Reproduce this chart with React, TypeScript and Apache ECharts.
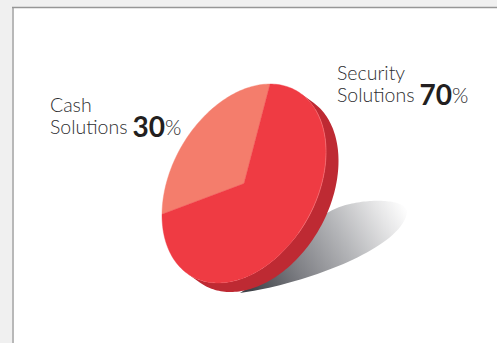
import React, { useEffect, useRef } from "react";
import * as echarts from "echarts";

// Revenue split shown on the tilted disc
const categories = ["Cash", "Security"];
const shareValues = [30, 70];
const sliceColors = ["#F47D6C", "#EF3B43"];
const labelSecondLine = "Solutions";

const WIDTH = 497;
const HEIGHT = 343;

// Disc geometry: a circle sheared into a leaning ellipse
const CX = 244;
const CY = 183.5;
const RX = 82;
const RY = 99.5;
const LEAN = (18.5 * Math.PI) / 180;
const START_ANGLE = Math.PI / 2;
const DEPTH_X = 12.5;
const DEPTH_Y = 9;

const discPoint = (theta: number, dx = 0, dy = 0): number[] => [
  CX + RX * Math.cos(theta - LEAN) + dx,
  CY - RY * Math.sin(theta) + dy,
];

const arcPoints = (from: number, to: number, dx = 0, dy = 0): number[][] => {
  const steps = Math.max(2, Math.ceil((Math.abs(to - from) / (2 * Math.PI)) * 240));
  const pts: number[][] = [];
  for (let i = 0; i <= steps; i++) {
    pts.push(discPoint(from + ((to - from) * i) / steps, dx, dy));
  }
  return pts;
};

// Angle on the rim where the extrusion's silhouette leaves the top face
const tangentAngle = (): number => {
  let best = 0;
  let bestCross = -Infinity;
  for (let i = 0; i < 3600; i++) {
    const t = (i / 3600) * 2 * Math.PI;
    const p = discPoint(t);
    const cross = (p[0] - CX) * DEPTH_Y - (p[1] - CY) * DEPTH_X;
    if (cross > bestCross) {
      bestCross = cross;
      best = t;
    }
  }
  return best;
};

const renderSlice = (params: any, api: any) => {
  const total = shareValues.reduce((a, b) => a + b, 0);
  const before = shareValues.slice(0, params.dataIndex).reduce((a, b) => a + b, 0);
  const value = api.value(0) as number;
  const from = START_ANGLE + (before / total) * 2 * Math.PI;
  const to = from + (value / total) * 2 * Math.PI;
  const color = sliceColors[params.dataIndex];
  return {
    type: "polygon",
    shape: { points: [[CX, CY], ...arcPoints(from, to)] },
    style: { fill: color, stroke: color, lineWidth: 0.4 },
  };
};

const renderDepth = () => {
  const t = tangentAngle();
  const outer = arcPoints(t, t - Math.PI, DEPTH_X, DEPTH_Y);
  const inner = arcPoints(t - Math.PI, t);
  return {
    type: "polygon",
    shape: { points: [...outer, ...inner] },
    style: { fill: "#BE2A33" },
  };
};

// Soft highlight where the top face meets the extruded side
const renderRim = () => ({
  type: "polyline",
  shape: { points: arcPoints((48 * Math.PI) / 180, (-30 * Math.PI) / 180) },
  style: { fill: "none", stroke: "#F26E73", lineWidth: 0.7 },
});

const cubic = (p0: number[], p1: number[], p2: number[], p3: number[]): number[][] => {
  const pts: number[][] = [];
  for (let i = 0; i <= 40; i++) {
    const t = i / 40;
    const s = 1 - t;
    pts.push([
      s * s * s * p0[0] + 3 * s * s * t * p1[0] + 3 * s * t * t * p2[0] + t * t * t * p3[0],
      s * s * s * p0[1] + 3 * s * s * t * p1[1] + 3 * s * t * t * p2[1] + t * t * t * p3[1],
    ]);
  }
  return pts;
};

// Cast shadow fading out towards the upper right
const renderShadow = () => ({
  type: "polygon",
  shape: {
    points: [
      ...cubic([240, 293], [300, 285], [400, 250], [407, 213]),
      ...cubic([407, 213], [409, 200], [375, 198], [350, 204]),
      ...cubic([350, 204], [320, 210], [290, 240], [260, 280]),
    ],
  },
  style: {
    fill: new echarts.graphic.LinearGradient(
      250,
      292,
      405,
      205,
      [
        { offset: 0, color: "#3F4248" },
        { offset: 0.3, color: "#7F8085" },
        { offset: 0.6, color: "#B5B6B9" },
        { offset: 0.85, color: "#E5E5E6" },
        { offset: 1, color: "#FFFFFF" },
      ],
      true
    ),
  },
});

const shareLabel = (index: number, x: number, y: number) => ({
  type: "text",
  x,
  y,
  z: 10,
  style: {
    text: `{name|${categories[index]}}\n{name|${labelSecondLine}} {num|${shareValues[index]}}{pct|%}`,
    fontFamily: "Lato",
    rich: {
      name: { fontFamily: "Lato", fontWeight: 300, fontSize: 19.5, fill: "#2E2E30", lineHeight: 22 },
      num: { fontFamily: "Lato", fontWeight: 700, fontSize: 28, fill: "#231F20", lineHeight: 22, padding: [0, 0, 0, 2] },
      pct: { fontFamily: "Lato", fontWeight: 300, fontSize: 21, fill: "#2E2E30", lineHeight: 22 },
    },
  },
});

export default function App() {
  const ref = useRef<HTMLDivElement>(null);

  useEffect(() => {
    const chart = echarts.init(ref.current!, undefined, { renderer: "svg" });
    chart.setOption({
      animation: false,
      backgroundColor: "#F0F0F0",
      graphic: [
        {
          type: "rect",
          z: -10,
          shape: { x: 13, y: 7, width: 600, height: 500 },
          style: { fill: "#FFFFFF" },
        },
        {
          type: "line",
          z: -9,
          shape: { x1: 13, y1: 7, x2: 13, y2: HEIGHT },
          style: { stroke: "#B8B8B8", lineWidth: 2 },
        },
        {
          type: "line",
          z: -8,
          shape: { x1: 12, y1: 7.5, x2: WIDTH, y2: 7.5 },
          style: { stroke: "#969696", lineWidth: 1.4 },
        },
        shareLabel(0, 50, 93),
        shareLabel(1, 337, 61),
      ],
      series: [
        { type: "custom", coordinateSystem: "none", silent: true, z: 1, data: [1], renderItem: renderShadow },
        { type: "custom", coordinateSystem: "none", silent: true, z: 2, data: [1], renderItem: renderDepth },
        {
          type: "custom",
          coordinateSystem: "none",
          silent: true,
          z: 3,
          data: categories.map((name, i) => ({ name, value: [shareValues[i]] })),
          renderItem: renderSlice,
        },
        { type: "custom", coordinateSystem: "none", silent: true, z: 4, data: [1], renderItem: renderRim },
      ],
    });
    return () => chart.dispose();
  }, []);

  return (
    <div
      ref={ref}
      style={{ position: "fixed", left: 0, top: 0, width: WIDTH, height: HEIGHT }}
    />
  );
}
